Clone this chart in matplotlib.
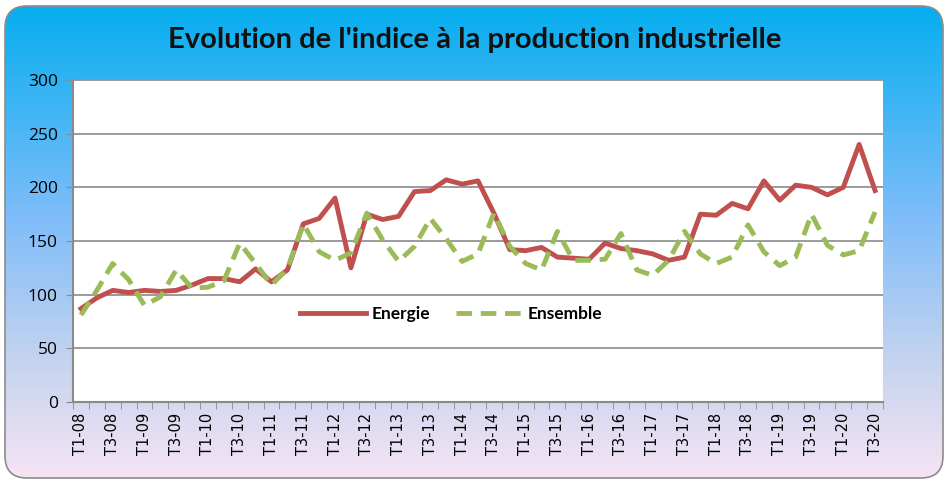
import numpy as np
import matplotlib.pyplot as plt
from matplotlib.patches import FancyBboxPatch
from matplotlib.colors import LinearSegmentedColormap

# trimestres T1-08 ... T3-20
trimestres = []
for a in range(8, 21):
    for t in range(1, 5):
        if a == 20 and t > 3:
            break
        trimestres.append('T%d-%02d' % (t, a))

energie = [87, 97, 104, 102, 104, 103, 104, 109, 115, 115, 112, 124, 112, 123, 166, 171, 190,
           125, 175, 170, 173, 196, 197, 207, 203, 206, 176, 142, 141, 144, 135, 134, 133, 148,
           143, 141, 138, 132, 135, 175, 174, 185, 180, 206, 188, 202, 200, 193, 200, 240, 197]
ensemble = [81, 104, 129, 114, 90, 98, 123, 106, 107, 113, 148, 129, 109, 124, 166, 140, 132,
            139, 176, 151, 131, 145, 171, 152, 131, 138, 176, 145, 129, 123, 159, 132, 132, 133,
            157, 123, 118, 132, 159, 138, 129, 135, 165, 140, 127, 135, 175, 146, 137, 141, 177]

W, H = 950, 483
fig = plt.figure(figsize=(W / 100, H / 100), dpi=100)
fig.patch.set_facecolor('white')

# fond degrade arrondi
bg = fig.add_axes([0, 0, 1, 1])
bg.set_xlim(0, W)
bg.set_ylim(0, H)
bg.axis('off')
cmap = LinearSegmentedColormap.from_list('fond', [(0.0, '#05aeef'), (0.45, '#7fbdfa'),
                                                  (0.75, '#c4d3ee'), (1.0, '#f6e4f4')])
grad = np.linspace(0, 1, 256).reshape(-1, 1)
im = bg.imshow(grad, cmap=cmap, extent=[4, W - 5, 4, H - 4], aspect='auto', origin='upper')
box = FancyBboxPatch((5, 5), W - 12, H - 11, boxstyle='round,pad=0,rounding_size=22',
                     facecolor='none', edgecolor='#8c8c8c', linewidth=1.2)
bg.add_patch(box)
im.set_clip_path(box)

fig.text(0.5, 0.917, "Evolution de l'indice à la production industrielle", ha='center', va='center',
         fontsize=21, fontweight='bold', family='Lato', color='#111111')

ax = fig.add_axes([73 / W, 1 - 402 / H, 810 / W, 322 / H])
ax.set_facecolor('white')
x = np.arange(len(trimestres))
ax.plot(x, energie, color='#c0504d', lw=3.5, label='Energie', solid_joinstyle='round')
ax.plot(x, ensemble, color='#9bbb59', lw=3.5, ls=(0, (3.2, 1.8)), label='Ensemble')

ax.set_xlim(-0.5, len(trimestres) - 0.5)
ax.set_ylim(0, 300)
ax.set_yticks(range(0, 301, 50))
ax.yaxis.grid(True, color='#8a8a8a', lw=1.2)
ax.set_axisbelow(True)
ax.set_xticks(x[::2])
ax.set_xticklabels(trimestres[::2], rotation=90, fontsize=10.5, family='DejaVu Sans')
ax.set_xticks(np.arange(-0.5, len(trimestres)), minor=True)
ax.tick_params(axis='x', which='major', length=0, pad=8)
ax.tick_params(axis='x', which='minor', length=5, color='#8a8a8a')
ax.tick_params(axis='y', length=5, color='#8a8a8a', labelsize=12.5, pad=6)
for lab in ax.get_yticklabels():
    lab.set_family('Open Sans')
for s in ['top', 'right']:
    ax.spines[s].set_visible(False)
for s in ['left', 'bottom']:
    ax.spines[s].set_color('#8a8a8a')
    ax.spines[s].set_linewidth(1.5)

leg = ax.legend(loc='center', bbox_to_anchor=(451 / W, 1 - 314 / H), bbox_transform=fig.transFigure,
                ncol=2, frameon=False, handlelength=3.8, columnspacing=1.5, handletextpad=0.3,
                prop={'family': 'Lato', 'weight': 'bold', 'size': 12.5})

fig.savefig('out.png', dpi=100, facecolor='white')
